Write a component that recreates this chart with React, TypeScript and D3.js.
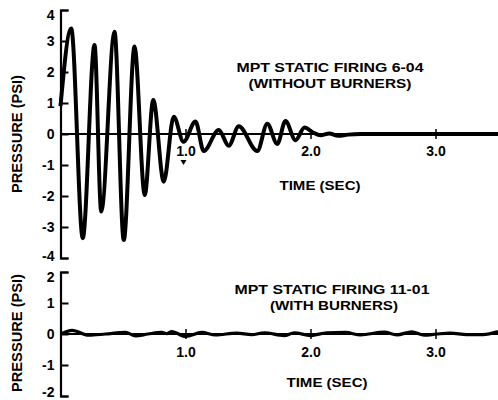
import { useEffect, useRef } from 'react';
import * as d3 from 'd3';

// top trace (without burners): time in sec, pressure in psi
const topTimes = [0, 0.086, 0.178, 0.272, 0.326, 0.432, 0.506, 0.592, 0.674, 0.742, 0.826, 0.906, 0.984, 1.08, 1.146, 1.266, 1.346, 1.426, 1.574, 1.654, 1.734, 1.8, 1.88, 1.952, 2.02, 2.08, 2.15, 2.22, 2.3, 2.4, 3.5];
const topPressure = [0.9, 3.4, -3.36, 2.87, -2.5, 3.3, -3.42, 2.82, -1.97, 1.1, -1.54, 0.56, -0.25, 0.4, -0.55, 0.13, -0.38, 0.25, -0.55, 0.33, -0.32, 0.42, -0.2, 0.21, 0.05, -0.04, 0.02, -0.06, -0.02, 0, 0];

// bottom trace (with burners)
const bottomTimes = [0, 0.093, 0.225, 0.36, 0.52, 0.6, 0.7, 0.81, 0.85, 0.89, 1.0, 1.13, 1.24, 1.41, 1.53, 1.63, 1.79, 1.87, 2.0, 2.13, 2.28, 2.4, 2.59, 2.69, 2.81, 2.91, 3.01, 3.12, 3.25, 3.38, 3.5];
const bottomPressure = [0, 0.12, -0.04, 0, 0.05, -0.06, 0, 0.05, 0.01, 0.08, -0.08, 0.05, -0.03, 0.03, -0.02, 0.04, -0.05, 0.04, -0.05, 0.04, 0.05, -0.03, 0.06, -0.03, 0.07, -0.04, 0, 0.03, -0.02, -0.02, 0.08];

const xTicks = [1, 2, 3];
const topYTicks = [-4, -3, -2, -1, 0, 1, 2, 3, 4];
const bottomYTicks = [-2, -1, 0, 1, 2];

const FONT = '"Liberation Sans", Arial, Helvetica, sans-serif';

export default function App() {
  const svgRef = useRef<SVGSVGElement | null>(null);

  useEffect(() => {
    if (!svgRef.current) return;
    const svg = d3.select(svgRef.current);
    svg.selectAll('*').remove();

    const width = 498;
    const height = 400;
    svg.append('rect').attr('width', width).attr('height', height).attr('fill', '#fff');

    const x = d3.scaleLinear().domain([0, 3.5]).range([60.5, 498]);

    const panels = [
      {
        times: topTimes, values: topPressure, yTicks: topYTicks,
        domain: [-4, 4], range: [258, 10], traceWidth: 4,
        title: 'MPT STATIC FIRING 6-04', titleW: 187, titleY: 72,
        sub: '(WITHOUT BURNERS)', subW: 163, subX: 330, subY: 88,
        titleX: 330, timeX: 320, timeY: 190, tickLabelY: 156, labelY: 134,
        marker: true, loShift: -2,
      },
      {
        times: bottomTimes, values: bottomPressure, yTicks: bottomYTicks,
        domain: [-2, 2], range: [396, 272], traceWidth: 3.2,
        title: 'MPT STATIC FIRING 11-01', titleW: 195, titleY: 294,
        sub: '(WITH BURNERS)', subW: 128, subX: 334, subY: 310,
        titleX: 332, timeX: 327, timeY: 387, tickLabelY: 357, labelY: 333,
        marker: false, loShift: -4,
      },
    ];

    panels.forEach(p => {
      const y = d3.scaleLinear().domain(p.domain).range(p.range);
      const g = svg.append('g');
      const y0 = y(0);
      const [lo, hi] = p.domain;

      // zero line
      g.append('line')
        .attr('x1', x(0)).attr('x2', width)
        .attr('y1', y0).attr('y2', y0)
        .attr('stroke', '#000').attr('stroke-width', 2);

      // y axis, ticks pointing inward
      g.append('g')
        .attr('transform', `translate(${x(0)},0)`)
        .call(d3.axisLeft(y).tickValues(p.yTicks).tickSize(-8).tickSizeOuter(-8).tickPadding(6).tickFormat(d => String(d)))
        .call(a => a.select('.domain').attr('stroke-width', 2.2))
        .call(a => a.selectAll('.tick line').attr('stroke-width', 2))
        .call(a => a.selectAll('text').attr('font-size', 14).attr('font-weight', 'bold').attr('font-family', FONT).attr('fill', '#000'))
        .call(a => a.selectAll<SVGTextElement, number>('text')
          .attr('y', d => (d === hi ? 5 : d === lo ? p.loShift : 0)));

      // x ticks crossing the zero line
      g.append('g')
        .attr('transform', `translate(0,${y0 - 5})`)
        .call(d3.axisBottom(x).tickValues(xTicks).tickSize(10).tickPadding(p.tickLabelY - y0 - 15).tickFormat(d3.format('.1f')))
        .call(a => a.select('.domain').remove())
        .call(a => a.selectAll('.tick line').attr('stroke-width', 1.5))
        .call(a => a.selectAll('text').attr('font-size', 14).attr('font-weight', 'bold').attr('font-family', FONT).attr('fill', '#000'));

      if (p.marker) {
        const mx = x(1) - 2;
        const my = p.tickLabelY + 4;
        g.append('path')
          .attr('d', `M${mx - 3},${my} L${mx + 3},${my} L${mx},${my + 5} Z`)
          .attr('fill', '#000');
      }

      // trace
      const pts = p.times.map((t, i) => [t, p.values[i]] as [number, number]);
      const line = d3.line<[number, number]>()
        .x(d => x(d[0]))
        .y(d => y(d[1]))
        .curve(d3.curveMonotoneX);
      g.append('path')
        .attr('d', line(pts))
        .attr('fill', 'none')
        .attr('stroke', '#000')
        .attr('stroke-width', p.traceWidth)
        .attr('stroke-linejoin', 'round');

      const txt = (s: string, tx: number, ty: number, w: number, size = 13) =>
        g.append('text')
          .attr('x', tx).attr('y', ty)
          .attr('text-anchor', 'middle')
          .attr('font-family', FONT)
          .attr('font-weight', 'bold')
          .attr('font-size', size)
          .attr('textLength', w)
          .attr('lengthAdjust', 'spacingAndGlyphs')
          .text(s);

      txt(p.title, p.titleX, p.titleY, p.titleW);
      txt(p.sub, p.subX, p.subY, p.subW);
      txt('TIME (SEC)', p.timeX, p.timeY, 81);

      // y label
      g.append('text')
        .attr('transform', `translate(22,${p.labelY}) rotate(-90)`)
        .attr('text-anchor', 'middle')
        .attr('font-family', FONT)
        .attr('font-weight', 'bold')
        .attr('font-size', 14)
        .attr('textLength', 118)
        .attr('lengthAdjust', 'spacingAndGlyphs')
        .text('PRESSURE (PSI)');
    });
  }, []);

  return (
    <svg ref={svgRef} width={498} height={400} style={{ position: 'absolute', left: 0, top: 0 }}></svg>
  );
}
